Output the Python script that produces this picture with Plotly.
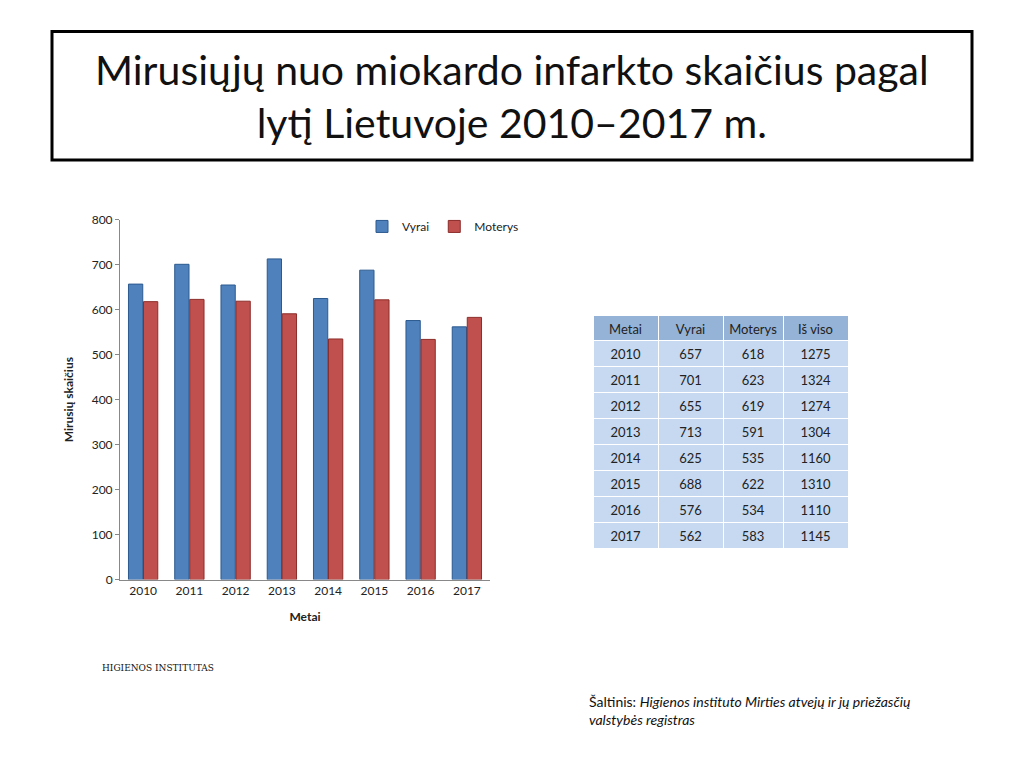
import plotly.graph_objects as go

years = ["2010","2011","2012","2013","2014","2015","2016","2017"]
vyrai = [657,701,655,713,625,688,576,562]
moterys = [618,623,619,591,535,622,534,583]
is_viso = [1275,1324,1274,1304,1160,1310,1110,1145]

W, H = 1024, 768
F = "Lato"
fig = go.Figure()
fig.add_trace(go.Bar(x=years, y=vyrai, name="Vyrai", marker=dict(color="#4f81bd", line=dict(color="#2c5a8f", width=1))))
fig.add_trace(go.Bar(x=years, y=moterys, name="Moterys", marker=dict(color="#c0504d", line=dict(color="#8c2d2a", width=1))))

fig.add_trace(go.Table(
    domain=dict(x=[593/W, 848/W], y=[1-560/H, 1-314/H]),
    columnwidth=[65, 65, 60, 65],
    header=dict(values=["Metai","Vyrai","Moterys","Iš viso"], fill_color="#95b3d7",
                line_color="white", font=dict(family=F, size=13, color="#222"), height=25),
    cells=dict(values=[years, vyrai, moterys, is_viso], fill_color="#c6d9f1",
               line_color="white", font=dict(family=F, size=13, color="#222"), height=26),
))

fig.update_layout(
    width=W, height=H, paper_bgcolor="white", plot_bgcolor="white",
    margin=dict(l=0, r=0, t=0, b=0),
    barmode="group", bargap=0.35, bargroupgap=0.05,
    font=dict(family=F, size=12, color="#222"),
    xaxis=dict(domain=[120/W, 490/W], showline=True, linecolor="#888", ticks="",
               title=dict(text="<b>Metai</b>", font=dict(size=12))),
    yaxis=dict(domain=[1-583/H, 1-216/H], range=[0, 800], dtick=100, showgrid=False,
               showline=True, linecolor="#888", ticks="outside", ticklen=4, tickcolor="#888",
               title=dict(text="<b>Mirusių skaičius</b>", font=dict(size=12))),
    legend=dict(orientation="h", x=362/W, y=1-208/H, xanchor="left", yanchor="top",
                font=dict(size=12), bgcolor="rgba(0,0,0,0)"),
    shapes=[dict(type="rect", xref="paper", yref="paper", x0=52/W, x1=972/W, y0=1-155/H, y1=1-24/H,
                 line=dict(color="black", width=3))],
    annotations=[
        dict(text="Mirusiųjų nuo miokardo infarkto skaičius pagal<br>lytį Lietuvoje 2010–2017 m.",
             x=0.5, y=1-90/H, xref="paper", yref="paper", yanchor="middle", showarrow=False,
             font=dict(family=F, size=41, color="#111"), align="center"),
        dict(text="Šaltinis: <i>Higienos instituto Mirties atvejų ir jų priežasčių<br>valstybės registras</i>",
             x=587/W, y=1-717/H, xref="paper", yref="paper", xanchor="left", yanchor="middle", showarrow=False,
             font=dict(family=F, size=14, color="#111"), align="left"),
        dict(text="HIGIENOS INSTITUTAS", x=100/W, y=1-680/H, xref="paper", yref="paper",
             showarrow=False, font=dict(family="DejaVu Serif", size=9, color="#111")),
    ],
)
fig.write_html("out.html", config={"displayModeBar": False},
               post_script="document.body.style.margin='0';document.body.style.overflow='hidden';")
